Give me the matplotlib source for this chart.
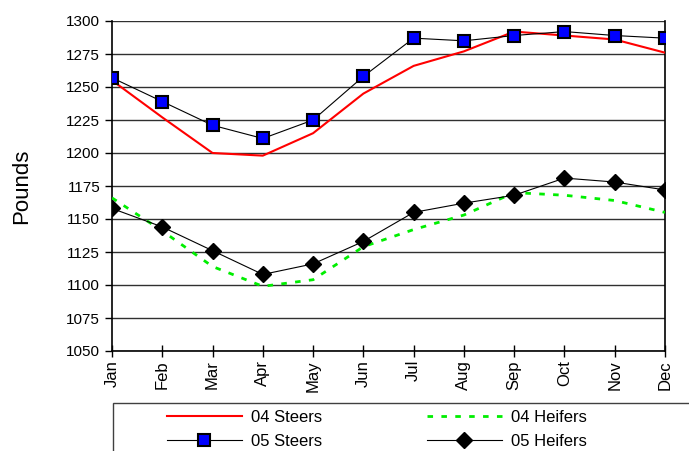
import numpy as np
import matplotlib
matplotlib.use('Agg')
import matplotlib.pyplot as plt
from matplotlib.patches import Rectangle

months = ['Jan', 'Feb', 'Mar', 'Apr', 'May', 'Jun',
          'Jul', 'Aug', 'Sep', 'Oct', 'Nov', 'Dec']
steers_04 = [1255, 1227, 1200, 1198, 1215, 1245, 1266, 1277, 1292, 1289, 1286, 1276]
heifers_04 = [1166, 1141, 1114, 1099, 1104, 1129, 1142, 1153, 1170, 1168, 1164, 1155]
steers_05 = [1257, 1239, 1221, 1211, 1225, 1258, 1287, 1285, 1289, 1292, 1289, 1287]
heifers_05 = [1158, 1144, 1126, 1108, 1116, 1133, 1155, 1162, 1168, 1181, 1178, 1172]
y_ticks = np.arange(1050, 1301, 25)

plt.rcParams['font.family'] = ['Liberation Sans', 'DejaVu Sans']

fig = plt.figure(figsize=(6.89, 4.51), dpi=100)
ax = fig.add_axes([112/689, 1-351/451, (665-112)/689, (351-21)/451])

x = np.arange(len(months))

# horizontal grid lines
for v in y_ticks:
    ax.axhline(v, color='#303030', lw=1.0, zorder=1)

l1, = ax.plot(x, steers_04, color='#ff0000', lw=1.5, zorder=3, label='04 Steers')
l2, = ax.plot(x, heifers_04, color='#00ee00', lw=2, ls=(0, (2, 3)), zorder=3, label='04 Heifers')
l3, = ax.plot(x, steers_05, color='black', lw=0.8, marker='s', markersize=8,
              markerfacecolor='#0000ff', markeredgecolor='black', markeredgewidth=1.5,
              zorder=4, label='05 Steers')
l4, = ax.plot(x, heifers_05, color='black', lw=0.8, marker='D', markersize=8,
              markerfacecolor='black', markeredgecolor='black', zorder=4, label='05 Heifers')

ax.set_xlim(0, 11)
ax.set_ylim(1050, 1300)
ax.set_yticks(y_ticks)
ax.set_xticks(x)
ax.set_xticklabels(months, rotation=90, fontsize=12)
ax.tick_params(axis='y', direction='out', length=5, labelsize=11, width=1)
ax.tick_params(axis='x', direction='inout', length=9, width=1, pad=2)
ax.spines['top'].set_visible(False)
for s in ['left', 'bottom', 'right']:
    ax.spines[s].set_linewidth(1.2)
ax.set_ylabel('Pounds', fontsize=16)
ax.yaxis.set_label_coords(-0.145, 0.5)

# legend box running off the figure edge
fig.patches.append(Rectangle((113/689, -0.1), 0.9, 1-403/451+0.1,
                             transform=fig.transFigure, fill=False,
                             edgecolor='#404040', lw=1))
fig.legend([l1, l3, l2, l4], ['04 Steers', '05 Steers', '04 Heifers', '05 Heifers'],
           loc='upper left', bbox_to_anchor=(155/689, 1-398/451), ncol=2,
           frameon=False, fontsize=12, handlelength=4.5, handletextpad=0.55,
           columnspacing=6.3, labelspacing=0.57, borderpad=0.2)

fig.savefig('out.png', dpi=100)
